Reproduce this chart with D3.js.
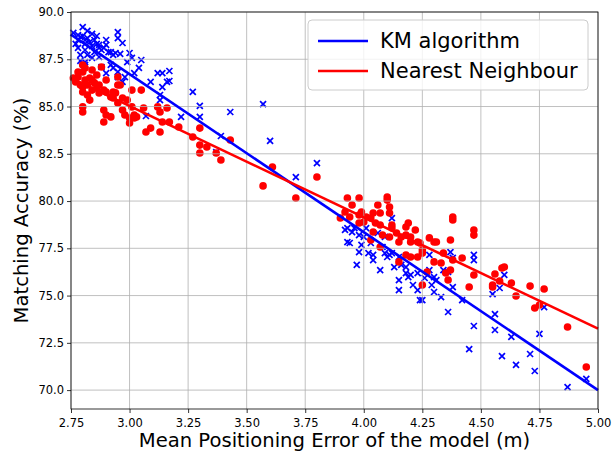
<!DOCTYPE html>
<html>
<head>
<meta charset="utf-8">
<script src="https://cdn.jsdelivr.net/npm/d3@7"></script>
<style>
  body { margin: 0; background: #fff; }
  svg text { font-family: "DejaVu Sans", sans-serif; fill: #000; }
</style>
</head>
<body>
<script>
const svgWidth = 612
const svgHeight = 451

const margin = { top: 12, right: 14, bottom: 42, left: 71 }

const chartWidth = svgWidth - margin.left - margin.right
const chartHeight = svgHeight - margin.top - margin.bottom

// KM algorithm samples [error (m), accuracy (%)]
const kmPoints = [
    [2.80, 89.2], [2.76, 88.9], [2.78, 88.78], [2.79, 88.68], [2.78, 88.52], [2.80, 88.73],
    [2.81, 88.52], [2.81, 88.31], [2.82, 88.62], [2.83, 88.41], [2.84, 88.20], [2.85, 88.52],
    [2.86, 88.31], [2.87, 88.10], [2.87, 88.26], [2.88, 87.99], [2.89, 88.10], [2.90, 88.52],
    [2.91, 87.88], [2.81, 87.99], [2.79, 87.73], [2.82, 87.73], [2.84, 87.57], [2.85, 87.88],
    [2.77, 88.31], [2.78, 88.10], [2.82, 89.0], [2.84, 88.84], [2.86, 88.73], [2.79, 87.41],
    [2.81, 87.35], [2.87, 87.62], [2.92, 87.88], [2.95, 88.94], [2.95, 88.62], [2.97, 88.36],
    [2.90, 88.26], [2.93, 87.73], [2.94, 87.83], [2.96, 87.78], [3.00, 87.83], [3.01, 87.57],
    [2.99, 87.35], [3.05, 87.46], [3.04, 87.04], [3.02, 86.77], [2.98, 86.56], [2.97, 86.30],
    [3.09, 86.30], [3.12, 86.77], [3.14, 86.77], [3.17, 86.88], [3.16, 86.30], [3.17, 86.35],
    [3.14, 86.03], [3.13, 85.61], [3.13, 85.34], [3.27, 85.77], [3.30, 85.03], [3.30, 84.45],
    [3.43, 84.71], [3.22, 84.45], [3.07, 84.50], [3.39, 83.44], [3.37, 82.59], [3.57, 85.13],
    [3.60, 83.18], [3.71, 81.27], [3.80, 82.01], [2.92, 87.20], [2.93, 87.04], [2.88, 87.09],
    [2.95, 86.83], [2.90, 86.77], [2.95, 86.56], [2.81, 87.20],
    [3.93, 78.57], [3.92, 78.47], [3.93, 77.83], [3.97, 76.62], [3.98, 77.30], [3.96, 78.57],
    [3.98, 78.20], [4.00, 78.10], [4.01, 78.57], [4.03, 77.78], [4.04, 76.88], [4.04, 77.15],
    [4.06, 78.31], [4.07, 76.35], [4.08, 77.57], [4.09, 78.10], [4.09, 77.25], [4.10, 77.04],
    [4.12, 79.10], [4.12, 77.25], [4.13, 76.51], [4.15, 75.82], [4.15, 75.29], [4.16, 76.62],
    [4.18, 76.19], [4.18, 76.51], [4.19, 75.98], [4.21, 75.56], [4.23, 75.29], [4.23, 76.19],
    [4.24, 74.76], [4.26, 75.93], [4.28, 76.35], [4.29, 75.56], [4.30, 75.98], [4.31, 75.82],
    [4.33, 74.92], [4.34, 76.35], [4.36, 74.13], [4.37, 77.30], [4.38, 76.99], [4.38, 75.45],
    [4.42, 74.76], [4.47, 77.15], [4.47, 76.88], [4.60, 76.09], [4.58, 75.40], [4.55, 75.08],
    [4.56, 74.02], [4.47, 73.39], [4.56, 73.18], [4.63, 72.81], [4.75, 72.97], [4.77, 74.39],
    [4.45, 72.17], [4.59, 71.80], [4.65, 71.33], [4.71, 71.91], [4.73, 71.01], [4.87, 70.16],
    [4.95, 70.59], [3.94, 77.78], [4.02, 77.25], [4.11, 77.15], [3.95, 78.36], [3.99, 77.68],
    [4.20, 76.09], [4.25, 74.76], [4.30, 75.19], [4.28, 77.15], [4.15, 77.04], [4.36, 76.25]
]

// Nearest Neighbour samples [error (m), accuracy (%)]
const nnPoints = [
    [2.76, 86.51], [2.80, 87.20], [2.84, 86.93], [2.88, 87.09], [2.80, 86.83], [2.80, 86.03],
    [2.80, 85.77], [2.80, 84.98], [2.80, 84.71], [2.83, 85.34], [2.84, 86.40], [2.86, 85.98],
    [2.87, 86.14], [2.89, 85.87], [2.90, 86.40], [2.89, 84.82], [2.90, 84.55], [2.89, 84.18],
    [2.93, 85.77], [2.93, 85.45], [2.95, 85.19], [2.95, 86.56], [2.96, 86.14], [2.97, 84.82],
    [2.98, 84.55], [3.00, 84.39], [3.01, 84.98], [3.02, 84.39], [3.00, 84.13], [3.03, 84.45],
    [3.05, 85.87], [3.01, 85.87], [3.06, 84.92], [3.09, 83.86], [3.07, 83.65], [3.12, 84.98],
    [3.13, 84.71], [3.14, 84.18], [3.16, 84.92], [3.17, 84.18], [3.21, 83.92], [3.13, 83.65],
    [3.27, 83.39], [3.30, 83.86], [3.30, 82.96], [3.30, 82.54], [3.33, 82.86], [3.37, 82.54],
    [3.39, 82.17], [3.43, 83.23], [3.61, 81.80], [3.57, 80.80], [3.71, 80.16], [3.80, 81.27],
    [2.78, 86.56], [2.81, 86.40], [2.83, 86.51], [2.82, 86.14], [2.85, 86.25], [2.84, 85.87],
    [2.79, 86.14], [2.87, 85.72], [2.90, 85.77], [2.92, 85.50], [2.94, 85.72], [2.95, 86.14],
    [2.97, 85.45], [2.99, 85.34], [2.92, 84.45], [3.02, 84.55], [2.81, 87.04], [2.78, 86.83],
    [2.86, 86.67], [2.82, 85.61], [2.77, 86.30],
    [3.93, 80.16], [3.98, 80.16], [3.95, 79.79], [3.92, 79.42], [3.94, 79.16], [3.98, 79.26],
    [3.99, 79.42], [4.00, 78.89], [4.01, 79.16], [3.98, 78.84], [4.03, 79.10], [4.04, 79.37],
    [4.06, 79.79], [4.07, 79.37], [4.10, 80.21], [4.10, 80.05], [4.11, 79.68], [4.11, 79.37],
    [4.12, 78.57], [4.07, 78.73], [4.05, 78.84], [4.08, 78.20], [4.11, 78.10], [4.12, 78.73],
    [4.14, 78.31], [4.15, 77.83], [4.16, 78.10], [4.18, 78.20], [4.19, 78.84], [4.18, 78.63],
    [4.20, 78.10], [4.20, 77.83], [4.22, 78.47], [4.23, 77.04], [4.20, 77.04], [4.18, 77.15],
    [4.15, 76.78], [4.23, 77.83], [4.25, 77.41], [4.25, 75.56], [4.27, 76.25], [4.28, 78.05],
    [4.30, 76.78], [4.31, 77.83], [4.33, 76.72], [4.35, 76.19], [4.36, 75.82], [4.37, 77.94],
    [4.37, 76.35], [4.38, 79.16], [4.38, 79.00], [4.38, 76.88], [4.42, 76.99], [4.45, 75.45],
    [4.47, 78.47], [4.47, 78.20], [4.47, 76.09], [4.03, 77.94], [4.04, 78.36], [4.07, 77.57],
    [3.90, 79.10], [4.34, 77.25], [4.25, 77.25], [4.24, 77.78], [4.30, 77.83],
    [4.56, 76.14], [4.59, 76.46], [4.60, 76.51], [4.58, 75.77], [4.55, 75.56], [4.55, 75.45],
    [4.63, 75.66], [4.65, 74.98], [4.71, 75.50], [4.77, 75.35], [4.73, 74.34], [4.75, 74.50],
    [4.87, 73.34], [4.95, 71.22]
]

// fitted lines, endpoints
const kmFit = [[2.75, 88.8], [5.0, 70.0]]
const nnFit = [[2.75, 86.5], [5.0, 73.25]]

const xTicks = [2.75, 3.0, 3.25, 3.5, 3.75, 4.0, 4.25, 4.5, 4.75, 5.0]
const yTicks = [70.0, 72.5, 75.0, 77.5, 80.0, 82.5, 85.0, 87.5, 90.0]

const legendLabels = ["KM algorithm", "Nearest Neighbour"]
const colors = ["#0000ff", "#ff0000"]

const svg = d3.select("body").append("svg")
    .attr("width", svgWidth)
    .attr("height", svgHeight)

const chartG = svg.append("g")
    .attr("transform", `translate(${margin.left}, ${margin.top})`)

const x = d3.scaleLinear().domain([2.75, 5.0]).range([0, chartWidth])
const y = d3.scaleLinear().domain([69.0, 90.0]).range([chartHeight, 0])

// markers
const kmG = chartG.append("g")
const xs = 3
kmG.selectAll("path")
    .data(kmPoints)
    .enter()
    .append("path")
    .attr("d", d => {
        const cx = x(d[0]), cy = y(d[1])
        return `M${cx - xs},${cy - xs}L${cx + xs},${cy + xs}M${cx - xs},${cy + xs}L${cx + xs},${cy - xs}`
    })
    .attr("stroke", colors[0])
    .attr("stroke-width", 1.7)
    .attr("fill", "none")

chartG.append("g").selectAll("circle")
    .data(nnPoints)
    .enter()
    .append("circle")
    .attr("cx", d => x(d[0]))
    .attr("cy", d => y(d[1]))
    .attr("r", 3.8)
    .attr("fill", colors[1])

// grid
chartG.append("g").selectAll("line.gx")
    .data(xTicks)
    .enter()
    .append("line")
    .attr("x1", d => x(d)).attr("x2", d => x(d))
    .attr("y1", 0).attr("y2", chartHeight)
    .attr("stroke", "#b0b0b0").attr("stroke-width", 0.8)

chartG.append("g").selectAll("line.gy")
    .data(yTicks)
    .enter()
    .append("line")
    .attr("x1", 0).attr("x2", chartWidth)
    .attr("y1", d => y(d)).attr("y2", d => y(d))
    .attr("stroke", "#b0b0b0").attr("stroke-width", 0.8)

// fit lines
const line = d3.line().x(d => x(d[0])).y(d => y(d[1]))
chartG.append("path")
    .attr("d", line(kmFit))
    .attr("stroke", colors[0]).attr("stroke-width", 2.6).attr("fill", "none")
chartG.append("path")
    .attr("d", line(nnFit))
    .attr("stroke", colors[1]).attr("stroke-width", 2.6).attr("fill", "none")

// axes
const xAxis = d3.axisBottom(x).tickValues(xTicks).tickFormat(d3.format(".2f")).tickSizeOuter(0).tickSize(4)
const yAxis = d3.axisLeft(y).tickValues(yTicks).tickFormat(d3.format(".1f")).tickSizeOuter(0).tickSize(4)

const gx = chartG.append("g")
    .attr("transform", `translate(0, ${chartHeight})`)
    .call(xAxis)
const gy = chartG.append("g").call(yAxis)

for (const g of [gx, gy]) {
    g.select(".domain").remove()
    g.selectAll("text").style("font-size", "11.5px").style("font-family", "DejaVu Sans")
    g.selectAll("line").attr("stroke", "#000").attr("stroke-width", 0.8)
}
gx.selectAll("text").attr("dy", "0.95em")
gy.selectAll("text").attr("x", -7)

chartG.append("rect")
    .attr("width", chartWidth).attr("height", chartHeight)
    .attr("fill", "none").attr("stroke", "#000").attr("stroke-width", 0.8)

// axis labels
svg.append("text")
    .attr("x", margin.left + chartWidth / 2)
    .attr("y", svgHeight - 4)
    .attr("text-anchor", "middle")
    .style("font-size", "19.6px")
    .text("Mean Positioning Error of the model (m)")

svg.append("text")
    .attr("transform", `translate(28, ${margin.top + chartHeight / 2}) rotate(-90)`)
    .attr("text-anchor", "middle")
    .style("font-size", "19.6px")
    .text("Matching Accuracy (%)")

// legend
const legendG = svg.append("g").attr("transform", "translate(308, 20)")
legendG.append("rect")
    .attr("width", 280).attr("height", 70).attr("rx", 4)
    .attr("fill", "#fff").attr("fill-opacity", 0.8)
    .attr("stroke", "#cccccc").attr("stroke-width", 1)

legendLabels.forEach((lab, i) => {
    const ly = 21 + i * 30
    legendG.append("line")
        .attr("x1", 10).attr("x2", 60).attr("y1", ly).attr("y2", ly)
        .attr("stroke", colors[i]).attr("stroke-width", 2.6)
    legendG.append("text")
        .attr("x", 72).attr("y", ly).attr("dy", "0.35em")
        .style("font-size", "21px")
        .text(lab)
})
</script>
</body>
</html>
